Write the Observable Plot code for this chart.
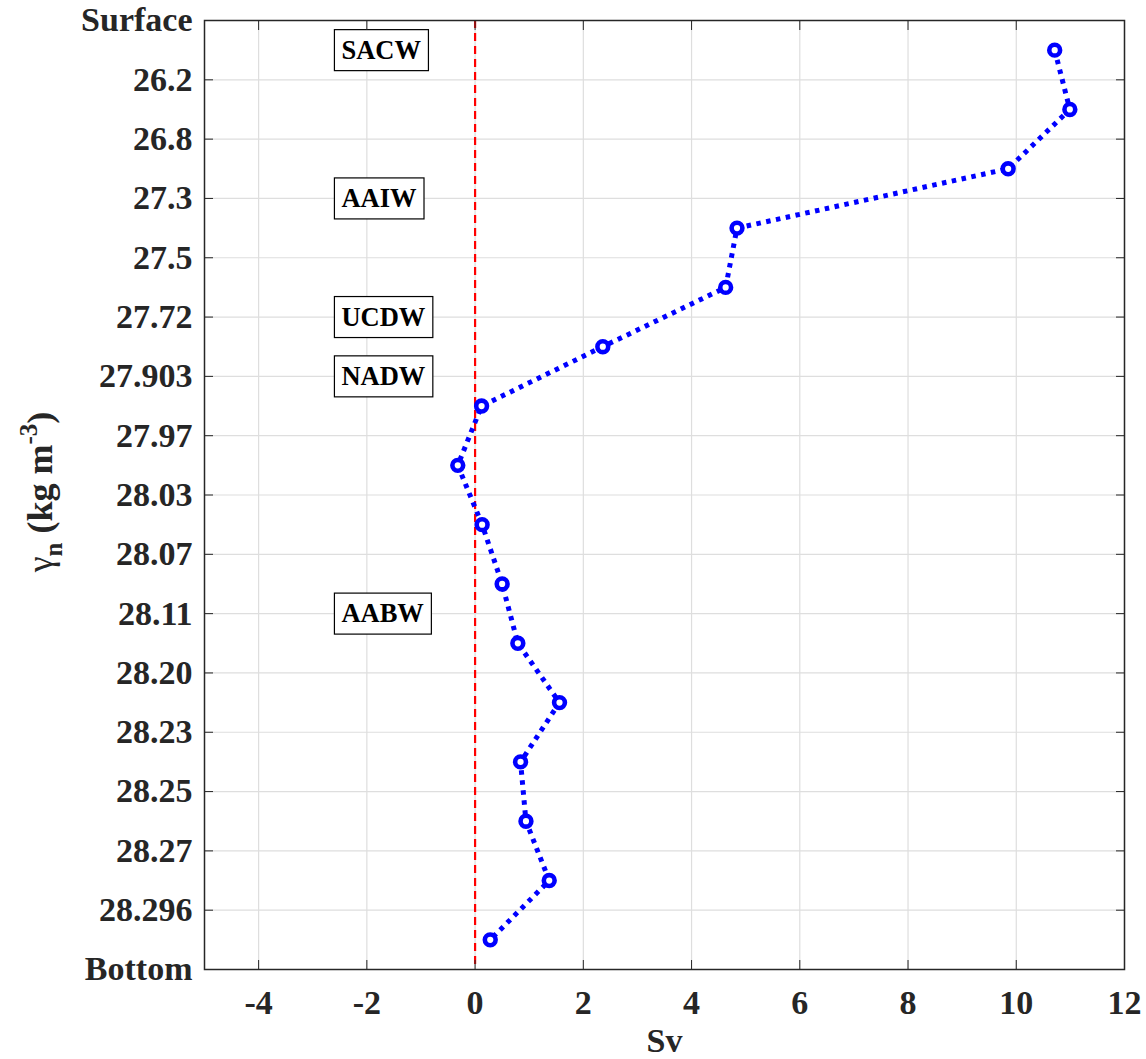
<!DOCTYPE html>
<html>
<head>
<meta charset="utf-8">
<script src="https://cdn.jsdelivr.net/npm/d3@7"></script>
<script src="https://cdn.jsdelivr.net/npm/@observablehq/plot@0.6"></script>
<style>
  html, body { margin: 0; padding: 0; background: #fff; }
</style>
</head>
<body>
<div id="chart"></div>
<script>
// y-axis tick labels (layer boundaries, top to bottom)
const yTickLabels = ["Surface", "26.2", "26.8", "27.3", "27.5", "27.72", "27.903", "27.97",
  "28.03", "28.07", "28.11", "28.20", "28.23", "28.25", "28.27", "28.296", "Bottom"];
// transport per layer (Sv), one value per layer between consecutive boundaries
const transportSv = [10.71, 10.99, 9.85, 4.84, 4.63, 2.36, 0.12, -0.32, 0.13, 0.50, 0.79, 1.56, 0.84, 0.94, 1.37, 0.28];
// x-axis ticks
const xTicks = [-4, -2, 0, 2, 4, 6, 8, 10, 12];
// water-mass labels and the boundary index they sit at
const massNames = ["SACW", "AAIW", "UCDW", "NADW", "AABW"];
const massAt = [0.5, 3, 5, 6, 10];
const massX = -2.47;

const FONT = '"Liberation Serif", "Times New Roman", Times, serif';
const INK = "#262626";

const yIdx = yTickLabels.map((_, i) => i);
const layers = transportSv.map((v, i) => ({sv: v, pos: i + 0.5}));
const masses = massNames.map((n, i) => ({name: n, pos: massAt[i]}));

const chart = Plot.plot({
  width: 1146,
  height: 1059,
  marginLeft: 204,
  marginRight: 22,
  marginTop: 20,
  marginBottom: 90,
  style: {fontFamily: FONT, fontWeight: "bold", fontSize: "34px", color: INK, background: "#fff", overflow: "visible"},
  x: {domain: [-5, 12], label: null},
  y: {domain: [0, 16], reverse: true, label: null},
  marks: [
    Plot.gridX(xTicks, {stroke: "#dedede", strokeOpacity: 1, strokeWidth: 1.2}),
    Plot.gridY(yIdx, {stroke: "#dedede", strokeOpacity: 1, strokeWidth: 1.2}),
    Plot.ruleX([0], {stroke: "#ff0000", strokeWidth: 2.2, strokeDasharray: "8,5"}),
    Plot.line(layers, {x: "sv", y: "pos", stroke: "#0000ff", strokeWidth: 5, strokeDasharray: "4.5,5.5", strokeLinecap: "butt"}),
    Plot.dot(layers, {x: "sv", y: "pos", r: 5.4, stroke: "#0000ff", strokeWidth: 4.6, fill: "#fff"}),
    Plot.text(masses, {x: () => massX, y: "pos", text: "name", textAnchor: "start", fontSize: 26.5, fill: "#000", className: "mass"}),
    Plot.axisX(xTicks, {anchor: "bottom", tickSize: 0, tickPadding: 20, tickFormat: d => String(d), fill: INK, label: null}),
    Plot.axisX(xTicks, {anchor: "bottom", tickSize: -9, fill: "none", stroke: INK, label: null}),
    Plot.axisX(xTicks, {anchor: "top", tickSize: -9, fill: "none", stroke: INK, label: null}),
    Plot.axisY(yIdx, {anchor: "left", tickSize: 0, tickPadding: 12, tickFormat: i => yTickLabels[i], fill: INK, label: null}),
    Plot.axisY(yIdx, {anchor: "left", tickSize: -9, fill: "none", stroke: INK, label: null}),
    Plot.axisY(yIdx, {anchor: "right", tickSize: -9, fill: "none", stroke: INK, label: null}),
    Plot.frame({stroke: INK, strokeWidth: 1.5}),
    Plot.text(["Sv"], {frameAnchor: "bottom", dy: 82, fontSize: 34, fill: INK})
  ]
});
document.getElementById("chart").appendChild(chart);

// boxes around water-mass labels
const svg = d3.select(chart);
svg.selectAll("g.mass text").each(function () {
  const b = this.getBBox();
  const padX = 7, padY = 7;
  const tf = this.getAttribute("transform");
  const r = d3.select(this.parentNode).insert("rect", () => this)
    .attr("x", b.x - padX)
    .attr("y", b.y - padY + 2)
    .attr("width", b.width + 2 * padX).attr("height", b.height + 2 * padY - 3)
    .attr("fill", "#fff").attr("stroke", "#000").attr("stroke-width", 1.2);
  if (tf) r.attr("transform", tf);
});

// y-axis label with subscript and superscript
const yl = svg.append("text")
  .attr("transform", "translate(52,492) rotate(-90)")
  .attr("text-anchor", "middle")
  .attr("font-family", FONT)
  .attr("font-weight", "bold")
  .attr("font-size", 36)
  .attr("fill", INK);
yl.append("tspan").attr("font-weight", "normal").text("γ");
yl.append("tspan").attr("font-size", 25).attr("dy", 10).text("n");
yl.append("tspan").attr("dy", -10).text(" (kg m");
yl.append("tspan").attr("font-size", 25).attr("dy", -15).text("-3");
yl.append("tspan").attr("dy", 15).text(")");
</script>
</body>
</html>
